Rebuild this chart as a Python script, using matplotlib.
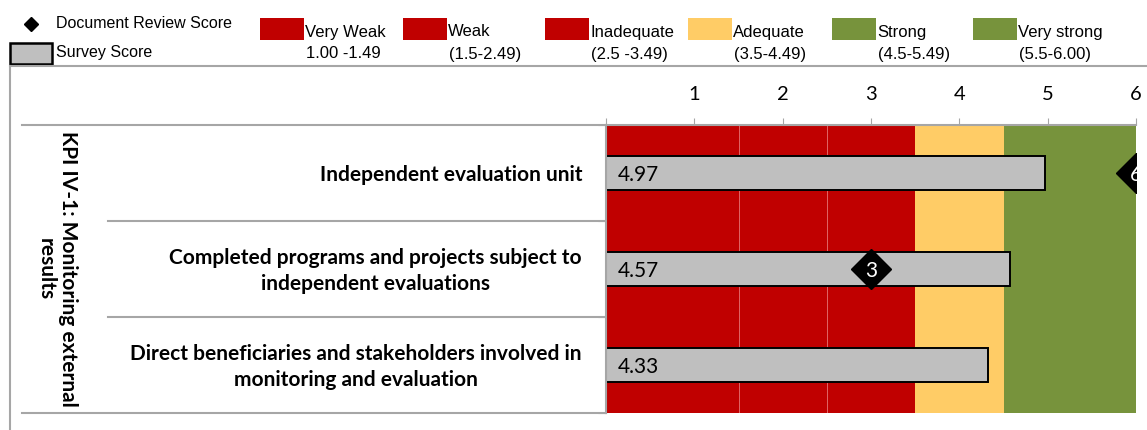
import matplotlib.pyplot as plt
from matplotlib.lines import Line2D
from matplotlib.patches import Rectangle

W, H = 1147, 430

# --- data -------------------------------------------------------------
indicators = [
    "Independent evaluation unit",
    "Completed programs and projects subject to\nindependent evaluations",
    "Direct beneficiaries and stakeholders involved in\nmonitoring and evaluation",
]
survey_scores = [4.97, 4.57, 4.33]
document_scores = [6, 3, None]
kpi_label = "KPI IV-1: Monitoring external\nresults"

band_names = ["Very Weak", "Weak", "Inadequate", "Adequate", "Strong", "Very strong"]
band_ranges = ["1.00 -1.49", "(1.5-2.49)", "(2.5 -3.49)", "(3.5-4.49)", "(4.5-5.49)", "(5.5-6.00)"]
band_edges = [0, 1.5, 2.5, 3.5, 4.5, 5.5, 6]
band_colors = ["#C00000", "#C00000", "#C00000", "#FFCC66", "#77933C", "#77933C"]
x_ticks = [0, 1, 2, 3, 4, 5, 6]

GRAY = "#BFBFBF"
LINE = "#A6A6A6"
LABEL_FONT = ["Lato", "DejaVu Sans"]
LEGEND_FONT = ["Liberation Sans", "DejaVu Sans"]


def px_box(x0, y0, x1, y1):
    # pixel box (top-left origin) -> figure fraction [left, bottom, width, height]
    return [x0 / W, 1 - y1 / H, (x1 - x0) / W, (y1 - y0) / H]


fig = plt.figure(figsize=(W / 100, H / 100), dpi=100)

# overlay in pixel coordinates for the frame, table and legend
over = fig.add_axes([0, 0, 1, 1])
over.set_xlim(0, W)
over.set_ylim(H, 0)
over.axis("off")

# --- main chart ---------------------------------------------------------
ax = fig.add_axes(px_box(606, 125, 1136, 413))
n = len(indicators)
for i in range(len(band_names)):
    ax.axvspan(band_edges[i], band_edges[i + 1], color=band_colors[i], lw=0, zorder=0)
for i in (1, 2):
    ax.axvline(band_edges[i], color="#E06666", lw=0.7, zorder=0.5)

rows = list(range(n))
ax.barh(rows, survey_scores, height=0.36, color=GRAY, edgecolor="black",
        linewidth=1.4, zorder=2)
for r, v in zip(rows, survey_scores):
    ax.text(0.13, r + 0.02, f"{v:.2f}", ha="left", va="center",
            fontsize=15, family=LABEL_FONT, zorder=3)

for r, d in zip(rows, document_scores):
    if d is None:
        continue
    ax.plot([d], [r], marker="D", markersize=20.5, color="black", ls="none", zorder=4)
    ax.text(d, r + 0.02, f"{d:g}", ha="center", va="center", color="white",
            fontsize=15, family=LABEL_FONT, zorder=5)

ax.set_xlim(band_edges[0], band_edges[-1])
ax.set_ylim(n - 0.5, -0.5)
ax.xaxis.tick_top()
ax.set_xticks(x_ticks)
ax.set_xticklabels([str(t) if t else "" for t in x_ticks], family=LABEL_FONT, fontsize=14.5)
ax.tick_params(axis="x", length=5, color=LINE, pad=11)
ax.set_yticks([r - 0.5 for r in range(n + 1)])
ax.set_yticklabels([])
ax.tick_params(axis="y", length=6, color=LINE)
for s in ("right", "bottom"):
    ax.spines[s].set_visible(False)
for s in ("top", "left"):
    ax.spines[s].set_color(LINE)
    ax.spines[s].set_linewidth(1.5)

# --- left table ----------------------------------------------------------
row_top, row_bot = 125, 413
row_h = (row_bot - row_top) / n
over.add_line(Line2D([22, 606], [row_top, row_top], color=LINE, lw=1.5))
over.add_line(Line2D([22, 606], [row_bot, row_bot], color=LINE, lw=1.5))
for i in range(1, n):
    y = row_top + i * row_h
    over.add_line(Line2D([108, 606], [y, y], color=LINE, lw=1.5))
for i, lab in enumerate(indicators):
    over.text(582, row_top + (i + 0.5) * row_h + 2, lab, ha="right", va="center",
              multialignment="center", fontsize=15, fontweight="bold",
              family=LABEL_FONT, linespacing=1.35)
over.text(57, (row_top + row_bot) / 2, kpi_label, rotation=270, ha="center",
          va="center", multialignment="center", fontsize=15, fontweight="bold",
          family=LABEL_FONT, linespacing=1.15)

# outer frame
over.add_line(Line2D([10, W], [66, 66], color=LINE, lw=1.5))
over.add_line(Line2D([10, 10], [66, H], color=LINE, lw=1.5))

# --- legend ----------------------------------------------------------------
over.plot([31], [24], marker="D", markersize=7.5, color="black", ls="none")
over.text(56, 24, "Document Review Score", ha="left", va="center",
          fontsize=11.5, family=LEGEND_FONT)
over.add_patch(Rectangle((10, 43), 42, 21, facecolor=GRAY, edgecolor="black", lw=1.8))
over.text(56, 53, "Survey Score", ha="left", va="center",
          fontsize=11.5, family=LEGEND_FONT)

patch_x = [260, 403, 545, 688, 832, 973]
for px, name, rng, col in zip(patch_x, band_names, band_ranges, band_colors):
    over.add_patch(Rectangle((px, 18), 44, 22, facecolor=col, edgecolor="none"))
    over.text(px + 45, 32, name, ha="left", va="center", fontsize=12, family=LEGEND_FONT)
    over.text(px + 46, 54, rng, ha="left", va="center", fontsize=12, family=LEGEND_FONT)

fig.savefig("out.png", dpi=100)
